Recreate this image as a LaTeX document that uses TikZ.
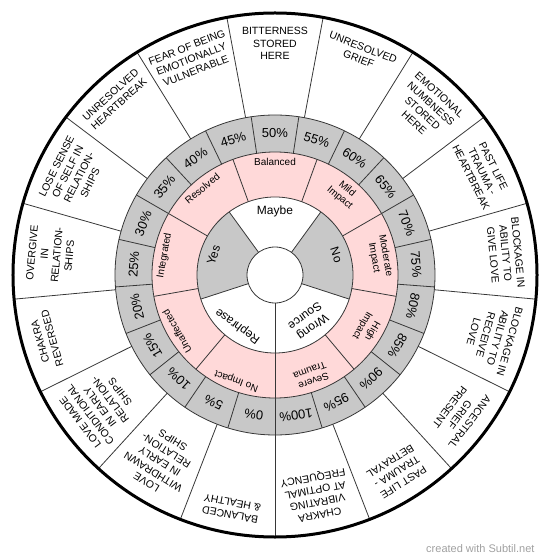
\documentclass[tikz,border=0pt]{standalone}
\usepackage{fontspec}
\setmainfont{Liberation Sans}

\definecolor{ringgrey}{RGB}{200,200,200}
\definecolor{ringpink}{RGB}{255,217,217}
\definecolor{wheelline}{RGB}{55,55,55}
\definecolor{footgrey}{RGB}{160,160,160}

\tikzset{
  outlbl/.style={anchor=north,inner sep=0pt,align=center,font=\fontsize{10.5}{12.5}\selectfont},
  pinklbl/.style={anchor=north,inner sep=0pt,align=center,font=\fontsize{10}{11.5}\selectfont},
  pctlbl/.style={inner sep=0pt,font=\fontsize{13}{15}\selectfont},
  answerlbl/.style={anchor=north,inner sep=0pt,align=center,font=\fontsize{12}{13.5}\selectfont},
  spoke/.style={draw=wheelline,line width=0.8pt},
}

\begin{document}
\begin{tikzpicture}[x=1pt,y=1pt]

\newcommand\RCEN{28}
\newcommand\RIN{78}
\newcommand\RPINK{123}
\newcommand\RGREY{160}
\newcommand\ROUT{262}

\useasboundingbox (-275,-284) rectangle (275,275);

% rings
\fill[ringgrey,even odd rule] (0,0) circle (\RGREY) (0,0) circle (\RPINK);
\fill[ringpink,even odd rule] (0,0) circle (\RPINK) (0,0) circle (\RIN);
\fill[ringgrey] (126:\RCEN) -- (126:\RIN) arc[start angle=126,end angle=198,radius=\RIN] -- (198:\RCEN) arc[start angle=198,end angle=126,radius=\RCEN] -- cycle; % Yes
\fill[ringgrey] (-18:\RCEN) -- (-18:\RIN) arc[start angle=-18,end angle=54,radius=\RIN] -- (54:\RCEN) arc[start angle=54,end angle=-18,radius=\RCEN] -- cycle; % No

% spokes
\foreach \k in {0,...,16} \draw[spoke] ({79.4118-\k*21.1765}:\RGREY) -- ({79.4118-\k*21.1765}:\ROUT);
\foreach \k in {0,...,20} \draw[spoke] ({81.4286-\k*17.1429}:\RPINK) -- ({81.4286-\k*17.1429}:\RGREY);
\foreach \k in {0,...,8} \draw[spoke] ({70-\k*40}:\RIN) -- ({70-\k*40}:\RPINK);
\foreach \k in {0,...,4} \draw[spoke] ({54-\k*72}:\RCEN) -- ({54-\k*72}:\RIN);

\draw[spoke] (0,0) circle (\RCEN);
\draw[spoke] (0,0) circle (\RIN);
\draw[spoke] (0,0) circle (\RPINK);
\draw[spoke] (0,0) circle (\RGREY);
\draw[line width=3pt] (0,0) circle (\ROUT);

% outer ring
\node[outlbl,rotate=0] (bitter) at (90:248) {BITTERNESS\\STORED\\HERE};
\node[outlbl,rotate=-21.18] (grief) at (68.82:248) {UNRESOLVED\\GRIEF};
\node[outlbl,rotate=-42.35] (numb) at (47.65:248) {EMOTIONAL\\NUMBNESS\\STORED\\HERE};
\node[outlbl,rotate=-63.53] (pastheart) at (26.47:248) {PAST LIFE\\TRAUMA -\\HEARTBREAK};
\node[outlbl,rotate=-84.71] (give) at (5.29:248) {BLOCKAGE IN\\ABILITY TO\\GIVE LOVE};
\node[outlbl,rotate=-105.88] (receive) at (-15.88:248) {BLOCKAGE IN\\ABILITY TO\\RECEIVE\\LOVE};
\node[outlbl,rotate=-127.06] (ancestral) at (-37.06:248) {ANCESTRAL\\GRIEF\\PRESENT};
\node[outlbl,rotate=-148.24] (pastbetray) at (-58.24:248) {PAST LIFE\\TRAUMA -\\BETRAYAL};
\node[outlbl,rotate=-169.41] (vibrating) at (-79.41:248) {CHAKRA\\VIBRATING\\AT OPTIMAL\\FREQUENCY};
\node[outlbl,rotate=-190.59] (healthy) at (-100.59:248) {BALANCED\\\& HEALTHY};
\node[outlbl,rotate=-211.76] (withdrawn) at (-121.76:248) {LOVE\\WITHDRAWN\\IN EARLY\\RELATION-\\SHIPS};
\node[outlbl,rotate=-232.94] (conditional) at (-142.94:248) {LOVE MADE\\CONDITIONAL\\IN EARLY\\RELATION-\\SHIPS};
\node[outlbl,rotate=-254.12] (reversed) at (-164.12:248) {CHAKRA\\REVERSED};
\node[outlbl,rotate=-275.29] (overgive) at (-185.29:248) {OVERGIVE\\IN\\RELATION-\\SHIPS};
\node[outlbl,rotate=-296.47] (loseself) at (-206.47:248) {LOSE SENSE\\OF SELF IN\\RELATION-\\SHIPS};
\node[outlbl,rotate=-317.65] (heartbreak) at (-227.65:248) {UNRESOLVED\\HEARTBREAK};
\node[outlbl,rotate=-338.82] (fear) at (-248.82:248) {FEAR OF BEING\\EMOTIONALLY\\VULNERABLE};

% percent ring
\foreach \i [evaluate=\i as \pc using int(5*\i)] in {0,...,20}
  \node[pctlbl,rotate={(10-\i)*17.1429}] (p\i) at ({90+(10-\i)*17.1429}:141.5) {\pc\%};

% pink ring
\node[pinklbl,rotate=0] (balanced) at (90:117) {Balanced};
\node[pinklbl,rotate=-40] (mild) at (50:117) {Mild\\Impact};
\node[pinklbl,rotate=-80] (moderate) at (10:117) {Moderate\\Impact};
\node[pinklbl,rotate=-120] (high) at (-30:117) {High\\Impact};
\node[pinklbl,rotate=-160] (severe) at (-70:117) {Severe\\Trauma};
\node[pinklbl,rotate=-200] (noimpact) at (-110:117) {No Impact};
\node[pinklbl,rotate=-240] (unaffected) at (-150:117) {Unaffected};
\node[pinklbl,rotate=-280] (integrated) at (-190:117) {Integrated};
\node[pinklbl,rotate=-320] (resolved) at (-230:117) {Resolved};

% answers
\node[answerlbl,rotate=0] (maybe) at (90:69) {Maybe};
\node[answerlbl,rotate=-72] (no) at (18:69) {No};
\node[answerlbl,rotate=-144] (wrong) at (-54:69) {Wrong\\Source};
\node[answerlbl,rotate=-216] (rephrase) at (-126:69) {Rephrase};
\node[answerlbl,rotate=-288] (yes) at (-198:69) {Yes};

\node[anchor=base east,text=footgrey,font=\fontsize{11}{13}\selectfont] (credit) at (263,-277) {created with Subtil.net};

\end{tikzpicture}
\end{document}
